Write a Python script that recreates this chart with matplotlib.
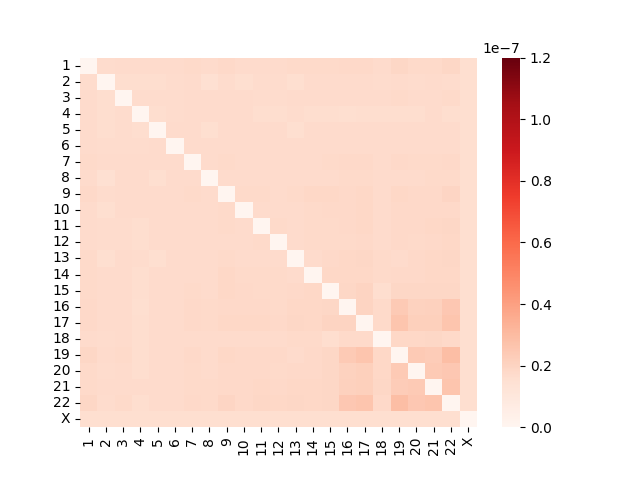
import numpy as np
import pandas as pd
import matplotlib
matplotlib.use('Agg')
import matplotlib.pyplot as plt
import seaborn as sns

# %% Data (values in units of 1e-8).
labels = [str(i) for i in range(1, 23)] + ['X']

# Lower triangle, row by row (row i holds columns 0..i-1).
lower = [
    [],
    [1.65],
    [1.70, 1.60],
    [1.70, 1.60, 1.65],
    [1.70, 1.60, 1.65, 1.60],
    [1.70, 1.65, 1.65, 1.65, 1.70],
    [1.75, 1.70, 1.70, 1.70, 1.70, 1.70],
    [1.70, 1.50, 1.70, 1.70, 1.55, 1.70, 1.70],
    [1.80, 1.65, 1.70, 1.70, 1.70, 1.70, 1.75, 1.70],
    [1.70, 1.55, 1.70, 1.70, 1.70, 1.70, 1.70, 1.70, 1.75],
    [1.70, 1.65, 1.65, 1.60, 1.70, 1.70, 1.70, 1.70, 1.75, 1.70],
    [1.70, 1.65, 1.65, 1.60, 1.70, 1.70, 1.70, 1.70, 1.70, 1.70, 1.75],
    [1.75, 1.55, 1.70, 1.65, 1.55, 1.70, 1.70, 1.70, 1.75, 1.70, 1.70, 1.70],
    [1.75, 1.70, 1.70, 1.60, 1.70, 1.70, 1.70, 1.70, 1.85, 1.75, 1.75, 1.75, 1.70],
    [1.75, 1.70, 1.70, 1.60, 1.70, 1.70, 1.75, 1.70, 1.85, 1.80, 1.75, 1.75, 1.80, 1.85],
    [1.80, 1.70, 1.70, 1.55, 1.70, 1.70, 1.80, 1.75, 1.80, 1.80, 1.80, 1.75, 1.85, 1.85, 1.90],
    [1.80, 1.70, 1.70, 1.60, 1.70, 1.70, 1.80, 1.75, 1.85, 1.85, 1.85, 1.80, 1.90, 1.85, 2.00, 2.00],
    [1.70, 1.65, 1.70, 1.60, 1.70, 1.70, 1.70, 1.70, 1.70, 1.70, 1.70, 1.70, 1.75, 1.75, 1.60, 1.75, 1.75],
    [1.90, 1.70, 1.75, 1.60, 1.70, 1.70, 1.80, 1.70, 1.85, 1.80, 1.80, 1.80, 1.70, 1.80, 1.90, 2.40, 2.60, 1.85],
    [1.75, 1.65, 1.70, 1.60, 1.70, 1.70, 1.75, 1.70, 1.80, 1.80, 1.80, 1.75, 1.80, 1.80, 1.90, 2.10, 2.20, 1.85, 2.40],
    [1.75, 1.70, 1.70, 1.70, 1.70, 1.70, 1.75, 1.75, 1.80, 1.80, 1.85, 1.80, 1.85, 1.85, 1.90, 2.15, 2.20, 1.90, 2.30, 2.40],
    [1.90, 1.65, 1.75, 1.60, 1.70, 1.70, 1.80, 1.75, 1.95, 1.80, 1.90, 1.85, 1.90, 1.85, 1.90, 2.50, 2.60, 1.80, 2.90, 2.50, 2.60],
    [1.55, 1.55, 1.55, 1.55, 1.55, 1.55, 1.55, 1.55, 1.55, 1.55, 1.55, 1.55, 1.55, 1.55, 1.55,
     1.55, 1.55, 1.55, 1.55, 1.55, 1.55, 1.55],
]

# %% Build symmetric matrix with zero diagonal.
n = len(labels)
mat = np.zeros((n, n))
for i, row in enumerate(lower):
    for j, v in enumerate(row):
        mat[i, j] = v * 1e-8
        mat[j, i] = v * 1e-8

df = pd.DataFrame(mat, index=labels, columns=labels)

# %% Plotting.
fig, ax = plt.subplots(figsize=(6.4, 4.8), dpi=100)
sns.heatmap(df, cmap='Reds', vmin=0, vmax=1.2e-7, ax=ax)
ax.set_yticklabels(labels, rotation=0)
ax.set_xticklabels(labels, rotation=90)

fig.savefig('out.png', dpi=100)
plt.close(fig)
